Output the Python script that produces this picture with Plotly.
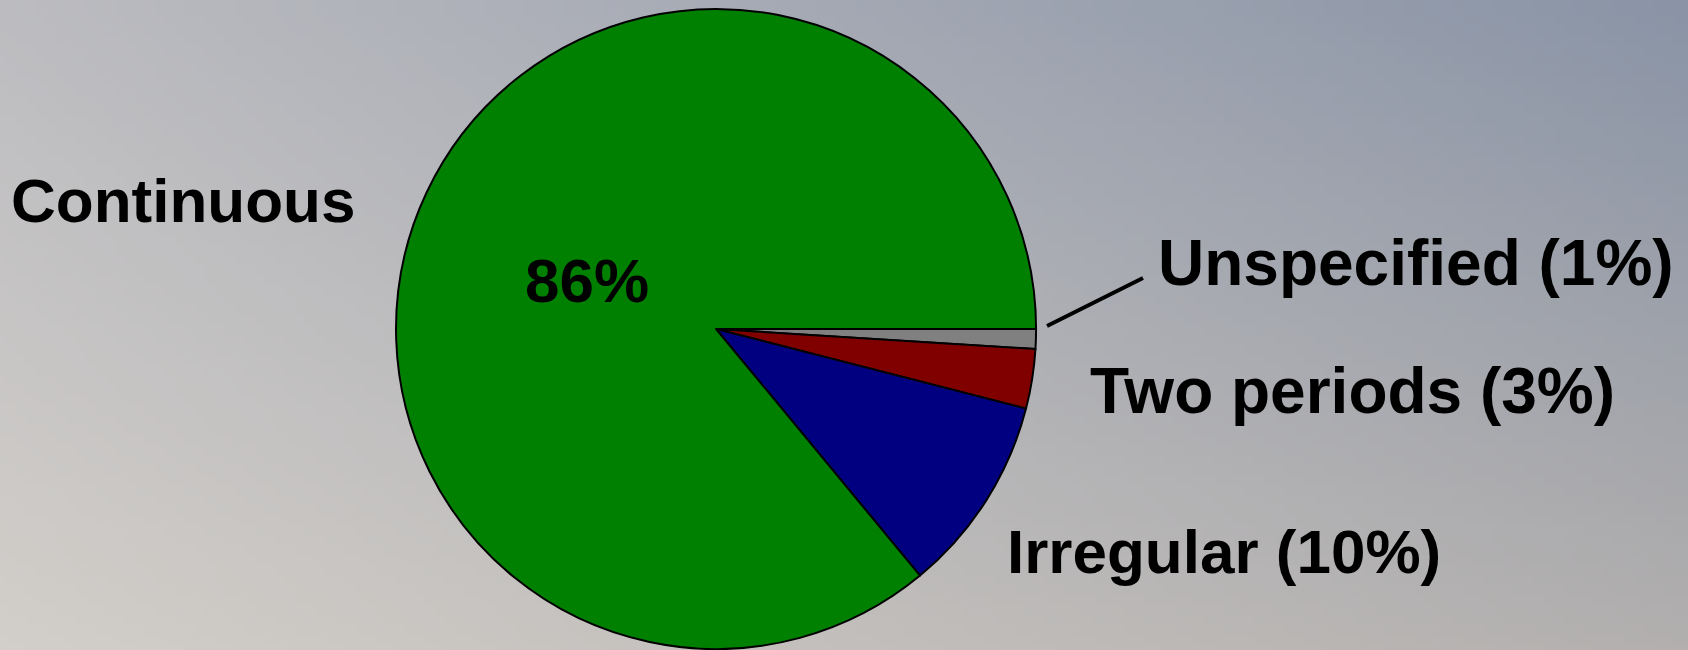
import base64, struct, zlib
import plotly.graph_objects as go

# ---- data ----
categories = ["Unspecified", "Two periods", "Irregular", "Continuous"]
values = [1, 3, 10, 86]
slice_colors = ["#808080", "#800000", "#000080", "#008000"]
label_texts = ["Unspecified (1%)", "Two periods (3%)", "Irregular (10%)", "Continuous"]
inner_text = "86%"

W, H = 1688, 650

# ---- background gradient (bilinear corner colours) ----
TL = (188, 188, 192)
TR = (138, 148, 166)
BL = (210, 206, 201)
BR = (178, 175, 174)

def make_png(w, h):
    rows = b""
    for j in range(h):
        v = j / (h - 1)
        row = b"\x00"
        for i in range(w):
            u = i / (w - 1)
            px = []
            for c in range(3):
                top = TL[c] * (1 - u) + TR[c] * u
                bot = BL[c] * (1 - u) + BR[c] * u
                px.append(int(round(top * (1 - v) + bot * v)))
            row += bytes(px)
        rows += row
    def chunk(t, d):
        c = struct.pack(">I", len(d)) + t + d
        return c + struct.pack(">I", zlib.crc32(t + d) & 0xffffffff)
    png = b"\x89PNG\r\n\x1a\n"
    png += chunk(b"IHDR", struct.pack(">IIBBBBB", w, h, 8, 2, 0, 0, 0))
    png += chunk(b"IDAT", zlib.compress(rows, 9))
    png += chunk(b"IEND", b"")
    return "data:image/png;base64," + base64.b64encode(png).decode()

bg = make_png(169, 65)

fig = go.Figure()
fig.add_trace(go.Pie(
    labels=categories,
    values=values,
    sort=False,
    direction="clockwise",
    rotation=90,
    marker=dict(colors=slice_colors, line=dict(color="black", width=2)),
    textinfo="none",
    hoverinfo="label+percent",
    domain=dict(x=[0.2242, 0.6242], y=[0.0015, 0.9862]),
    showlegend=False,
))

FAMILY = "Liberation Sans, Arial, sans-serif"

def px_x(x):
    return x / W

def px_y(y):
    return 1 - y / H

# label positions (left edge, vertical centre, font size) in pixels
label_pos = {
    "Unspecified (1%)": (1156, 263, 64),
    "Two periods (3%)": (1088, 391, 64),
    "Irregular (10%)": (1005, 551, 62),
    "Continuous": (9, 200, 62),
}
for t in label_texts:
    x, y, s = label_pos[t]
    fig.add_annotation(x=px_x(x), y=px_y(y), xref="paper", yref="paper",
                       text="<b>" + t + "</b>", showarrow=False,
                       xanchor="left", yanchor="middle",
                       font=dict(family=FAMILY, size=s, color="black"))
fig.add_annotation(x=px_x(523), y=px_y(280), xref="paper", yref="paper",
                   text="<b>" + inner_text + "</b>", showarrow=False,
                   xanchor="left", yanchor="middle",
                   font=dict(family=FAMILY, size=62, color="black"))

# leader line for "Unspecified"
fig.add_shape(type="line", xref="paper", yref="paper",
              x0=px_x(1047), y0=px_y(326), x1=px_x(1143), y1=px_y(278),
              line=dict(color="black", width=4))

fig.update_layout(
    width=W, height=H,
    margin=dict(l=0, r=0, t=0, b=0),
    paper_bgcolor="#b4b4b8",
    plot_bgcolor="rgba(0,0,0,0)",
    images=[dict(source=bg, xref="paper", yref="paper", x=0, y=1,
                 sizex=1, sizey=1, xanchor="left", yanchor="top",
                 sizing="stretch", layer="below")],
)

fig.write_html("out.html")
